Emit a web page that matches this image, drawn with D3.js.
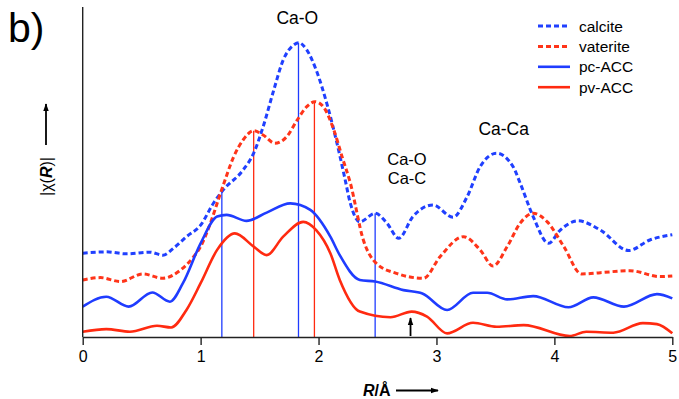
<!DOCTYPE html>
<html>
<head>
<meta charset="utf-8">
<script src="https://cdn.jsdelivr.net/npm/d3@7"></script>
<style>
  body { margin: 0; background: #fff; }
  svg { display: block; font-family: "Liberation Sans", Arial, sans-serif; }
</style>
</head>
<body>
<div class="chart"></div>
<script>
var width = 679;
var height = 399;

// R in Angstrom, |chi(R)| in arbitrary units (0-100)
var calcite_R = [0, 0.2, 0.37, 0.57, 0.68, 0.77, 0.88, 1.0, 1.11, 1.19, 1.36, 1.45, 1.53, 1.62, 1.70, 1.79, 1.83, 1.90, 1.98, 2.07, 2.15, 2.22, 2.27, 2.35, 2.48, 2.58, 2.68, 2.80, 2.97, 3.14, 3.26, 3.37, 3.51, 3.65, 3.71, 3.82, 3.95, 4.05, 4.20, 4.39, 4.63, 4.81, 5.0];
var calcite_v = [25.4, 25.8, 25.2, 25.7, 24.8, 26.9, 30.4, 33.9, 40.6, 44.5, 50.6, 55.7, 63.7, 74.8, 83.9, 88.5, 89.2, 87.0, 80.9, 70.8, 59.7, 48.6, 40.5, 34.9, 37.5, 34.5, 29.9, 36.5, 40.0, 36.3, 42.5, 51.6, 55.7, 51.6, 46.6, 36.5, 28.4, 32.4, 35.2, 32.4, 26.2, 29.4, 31.0];

var vaterite_R = [0, 0.15, 0.32, 0.51, 0.68, 0.83, 0.94, 1.0, 1.05, 1.19, 1.28, 1.36, 1.45, 1.53, 1.63, 1.73, 1.82, 1.90, 1.97, 2.04, 2.13, 2.20, 2.27, 2.38, 2.49, 2.66, 2.89, 3.03, 3.23, 3.37, 3.48, 3.60, 3.71, 3.82, 3.94, 4.08, 4.23, 4.39, 4.64, 4.90, 5.0];
var vaterite_v = [17.3, 18.0, 16.8, 19.1, 17.8, 20.3, 24.3, 27.4, 31.4, 45.8, 54.6, 59.7, 62.5, 61.2, 58.7, 60.7, 65.8, 69.8, 71.3, 69.8, 62.7, 54.6, 46.6, 29.4, 22.3, 19.3, 17.8, 24.3, 30.4, 26.4, 21.5, 27.4, 34.5, 37.5, 34.9, 27.4, 19.1, 19.5, 20.1, 18.3, 18.5];

var pcACC_R = [0, 0.2, 0.39, 0.59, 0.74, 0.85, 1.0, 1.14, 1.22, 1.39, 1.56, 1.76, 1.93, 2.10, 2.18, 2.35, 2.48, 2.72, 2.88, 3.09, 3.31, 3.43, 3.60, 3.82, 4.12, 4.33, 4.59, 4.87, 5.0];
var pcACC_v = [9.2, 12.2, 9.2, 13.5, 10.7, 16.3, 28.4, 36.5, 37.0, 35.2, 37.7, 40.5, 38.5, 30.4, 24.8, 17.3, 16.8, 14.2, 13.2, 8.2, 13.4, 13.4, 11.4, 12.4, 9.0, 12.0, 9.2, 13.0, 11.7];

var pvACC_R = [0, 0.2, 0.40, 0.63, 0.75, 0.88, 1.0, 1.14, 1.29, 1.45, 1.56, 1.70, 1.87, 1.98, 2.10, 2.18, 2.35, 2.61, 2.79, 2.92, 3.09, 3.31, 3.51, 3.74, 4.13, 4.27, 4.50, 4.75, 4.87, 5.0];
var pvACC_v = [1.6, 2.4, 1.6, 3.4, 2.9, 8.2, 16.3, 26.4, 31.4, 27.4, 24.8, 30.4, 34.9, 32.4, 25.4, 17.3, 7.7, 6.0, 7.7, 6.2, 1.1, 4.3, 3.1, 3.6, 0.3, 1.6, 1.3, 4.2, 3.9, 1.1];

// vertical marker lines: position and height
var marker_R = [1.18, 1.45, 1.83, 1.965, 2.48];
var marker_v = [44.5, 62.5, 89.2, 71.3, 37.5];
var marker_series = ["pc-ACC", "pv-ACC", "pc-ACC", "pv-ACC", "pc-ACC"];

var x_ticks = [0, 1, 2, 3, 4, 5];
var arrow_R = 2.78;

var series = [
    {'name':'calcite',  'R':calcite_R,  'v':calcite_v,  'color':'#2040ff', 'dash':'5,3'},
    {'name':'vaterite', 'R':vaterite_R, 'v':vaterite_v, 'color':'#ff3419', 'dash':'5,3'},
    {'name':'pc-ACC',   'R':pcACC_R,    'v':pcACC_v,    'color':'#1f3cff', 'dash':null},
    {'name':'pv-ACC',   'R':pvACC_R,    'v':pvACC_v,    'color':'#ff2a10', 'dash':null}
];
var colorOf = {};
series.forEach(function(s){ colorOf[s.name] = s.color; });

var margin = {left: 82.7, right: 6.7, top: 7, bottom: 62};

var svg = d3.select(".chart")
    .append("svg")
    .attr("width", width)
    .attr("height", height);

var x = d3.scaleLinear().domain([0, 5]).range([margin.left, width - margin.right]);
var y = d3.scaleLinear().domain([0, 100]).range([height - margin.bottom, margin.top]);

var defs = svg.append("defs");
defs.append("marker")
    .attr("id", "arrow")
    .attr("viewBox", "0 0 10 10")
    .attr("refX", 9).attr("refY", 5)
    .attr("markerWidth", 4.5).attr("markerHeight", 4.5)
    .attr("markerUnits", "strokeWidth")
    .attr("orient", "auto")
    .append("path")
    .attr("d", "M0,1.5 L10,5 L0,8.5 Z")
    .attr("fill", "#000");

// marker lines
svg.selectAll(".marker")
    .data(marker_R)
    .enter()
    .append("line")
    .attr("class", "marker")
    .attr("x1", d => x(d)).attr("x2", d => x(d))
    .attr("y1", y(0))
    .attr("y2", (d, i) => y(marker_v[i]))
    .attr("stroke", (d, i) => colorOf[marker_series[i]])
    .attr("stroke-width", 1.3);

var line = d3.line()
    .x(d => x(d[0]))
    .y(d => y(d[1]))
    .curve(d3.curveMonotoneX);

svg.selectAll(".curve")
    .data(series)
    .enter()
    .append("path")
    .attr("class", "curve")
    .attr("d", s => line(s.R.map((r, i) => [r, s.v[i]])))
    .attr("fill", "none")
    .attr("stroke", s => s.color)
    .attr("stroke-width", s => s.dash ? 3 : 2.6)
    .attr("stroke-dasharray", s => s.dash);

// axes
var xAxis = svg.append("g")
    .attr("transform", "translate(0," + y(0) + ")")
    .call(d3.axisBottom(x).tickValues(x_ticks).tickFormat(d3.format("d")).tickSize(8).tickSizeOuter(0).tickPadding(6));
xAxis.select(".domain").attr("stroke", "#222").attr("stroke-width", 1.4);
xAxis.selectAll(".tick line").attr("stroke", "#222").attr("stroke-width", 1.4);
xAxis.selectAll(".tick text")
    .attr("font-family", "Liberation Sans, Arial, sans-serif")
    .attr("font-size", 16).attr("fill", "#000");

svg.append("line")
    .attr("x1", x(0)).attr("x2", x(0))
    .attr("y1", y(0)).attr("y2", margin.top)
    .attr("stroke", "#222").attr("stroke-width", 1.4);

// small arrow under pv-ACC
svg.append("line")
    .attr("x1", x(arrow_R)).attr("x2", x(arrow_R))
    .attr("y1", y(0) - 1).attr("y2", y(0) - 19)
    .attr("stroke", "#000").attr("stroke-width", 1.8)
    .attr("marker-end", "url(#arrow)");

// annotations
var notes = [
    {'t':'Ca-O',  'x':x(1.82), 'y':24,  's':17.5},
    {'t':'Ca-O',  'x':x(2.75), 'y':165, 's':16.5},
    {'t':'Ca-C',  'x':x(2.75), 'y':184, 's':16.5},
    {'t':'Ca-Ca', 'x':x(3.57), 'y':135, 's':17.5}
];
svg.selectAll(".note")
    .data(notes)
    .enter()
    .append("text")
    .attr("class", "note")
    .attr("x", d => d.x).attr("y", d => d.y)
    .attr("text-anchor", "middle")
    .attr("font-size", d => d.s)
    .text(d => d.t);

// legend
var legend = svg.append("g").attr("transform", "translate(538,26)");
var lg = legend.selectAll(".lg")
    .data(series)
    .enter()
    .append("g")
    .attr("transform", (d, i) => "translate(0," + (i * 20.4) + ")");
lg.append("line")
    .attr("x1", 0).attr("x2", 32).attr("y1", 0).attr("y2", 0)
    .attr("stroke", d => d.color)
    .attr("stroke-width", d => d.dash ? 3 : 2.6)
    .attr("stroke-dasharray", d => d.dash);
lg.append("text")
    .attr("x", 41).attr("y", 5.5)
    .attr("font-size", 15.5)
    .text(d => d.name);

// panel letter
svg.append("text")
    .attr("x", 8).attr("y", 42)
    .attr("font-size", 41)
    .text("b)");

// y label
var yl = svg.append("g").attr("transform", "translate(52,196) rotate(-90)");
var ylt = yl.append("text").attr("x", 0).attr("y", 0).attr("font-size", 16);
ylt.append("tspan").text("|\u03C7(");
ylt.append("tspan").attr("font-style", "italic").attr("font-weight", "bold").text("R");
ylt.append("tspan").text(")|");
yl.append("line")
    .attr("x1", 51).attr("x2", 92).attr("y1", -6).attr("y2", -6)
    .attr("stroke", "#000").attr("stroke-width", 1.8)
    .attr("marker-end", "url(#arrow)");

// x label
var xl = svg.append("text").attr("x", 363).attr("y", 396).attr("font-size", 16).attr("font-weight", "bold");
xl.append("tspan").attr("font-style", "italic").text("R");
xl.append("tspan").text("/\u00C5");
svg.append("line")
    .attr("x1", 396).attr("x2", 438).attr("y1", 390.5).attr("y2", 390.5)
    .attr("stroke", "#000").attr("stroke-width", 1.8)
    .attr("marker-end", "url(#arrow)");
</script>
</body>
</html>
